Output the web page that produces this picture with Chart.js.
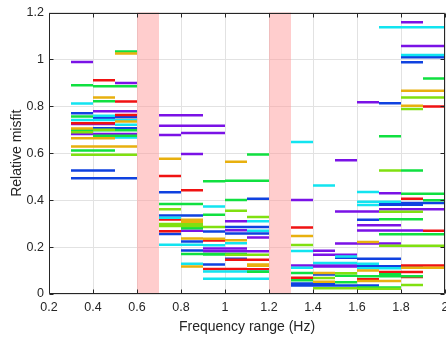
<!DOCTYPE html>
<html>
<head>
<meta charset="utf-8">
<script src="https://cdn.jsdelivr.net/npm/chart.js@4"></script>
<style>
  html, body { margin: 0; padding: 0; background: #fff; overflow: hidden; }
  #wrap { width: 460px; height: 337px; }
</style>
</head>
<body>
<div id="wrap"><canvas id="misfit" width="460" height="337"></canvas></div>
<script>
// each entry: [low freq, high freq, relative misfit]
const segPurple = [
  [0.3, 0.4, 0.989], [0.5, 0.6, 0.900], [0.4, 0.6, 0.779], [0.4, 0.5, 0.751], [0.3, 0.5, 0.725], [0.3, 0.6, 0.682],
  [0.7, 0.9, 0.762], [0.7, 1.0, 0.717], [0.7, 0.8, 0.678], [0.8, 1.0, 0.686], [0.8, 0.9, 0.597], [0.8, 0.9, 0.270],
  [0.9, 1.1, 0.194], [0.9, 1.2, 0.182], [1.0, 1.1, 0.310], [1.0, 1.1, 0.272], [1.1, 1.2, 0.241],
  [1.5, 1.6, 0.570], [1.3, 1.4, 0.401], [1.5, 1.7, 0.352], [1.5, 1.8, 0.215], [1.4, 1.5, 0.184], [1.4, 1.6, 0.167],
  [1.3, 1.7, 0.122], [1.4, 1.6, 0.117],
  [1.8, 1.9, 1.158], [1.8, 2.0, 1.057], [1.6, 1.7, 0.817], [1.7, 1.8, 0.429], [1.7, 2.0, 0.361], [1.6, 1.8, 0.293], [1.6, 1.9, 0.271]
];
const segBlue = [
  [0.3, 0.4, 0.771], [0.4, 0.5, 0.752], [0.5, 0.6, 0.755], [0.4, 0.6, 0.707], [0.3, 0.5, 0.526], [0.3, 0.6, 0.493],
  [0.7, 0.8, 0.434], [1.1, 1.2, 0.406], [0.7, 0.9, 0.335], [0.7, 0.8, 0.256], [0.9, 1.0, 0.266], [0.8, 0.9, 0.224],
  [0.8, 0.9, 0.185], [0.9, 1.0, 0.126], [1.0, 1.2, 0.286], [1.0, 1.2, 0.258], [1.0, 1.1, 0.150],
  [1.5, 1.6, 0.155], [1.4, 1.5, 0.083], [1.3, 1.5, 0.045], [1.3, 1.6, 0.036],
  [1.8, 2.0, 1.009], [1.8, 1.9, 0.988], [1.7, 1.8, 0.813], [1.7, 2.0, 0.388], [1.7, 1.9, 0.380], [1.6, 1.7, 0.316],
  [1.6, 1.8, 0.150], [1.6, 1.9, 0.118], [1.6, 1.7, 0.036]
];
const segRed = [
  [0.4, 0.5, 0.911], [0.5, 0.6, 0.821], [0.5, 0.6, 0.763], [0.3, 0.5, 0.728], [0.5, 0.6, 0.742],
  [0.7, 0.8, 0.503], [0.8, 0.9, 0.442], [0.7, 0.8, 0.318], [0.7, 0.8, 0.268], [0.9, 1.0, 0.228], [1.0, 1.2, 0.146],
  [0.9, 1.1, 0.107], [1.1, 1.2, 0.105],
  [1.3, 1.4, 0.283], [1.3, 1.4, 0.069],
  [1.9, 2.0, 0.799], [1.8, 1.9, 0.406], [1.9, 2.0, 0.270], [1.8, 2.0, 0.122], [1.7, 1.9, 0.094], [1.8, 1.9, 0.073],
  [1.6, 1.7, 0.063]
];
const segCyan = [
  [0.3, 0.4, 0.812], [0.4, 0.5, 0.760], [0.3, 0.6, 0.742], [0.4, 0.6, 0.667], [0.5, 0.6, 0.721],
  [0.9, 1.0, 0.373], [0.7, 0.8, 0.325], [0.7, 0.9, 0.210], [1.1, 1.2, 0.310], [1.1, 1.2, 0.270], [1.0, 1.1, 0.216],
  [0.9, 1.0, 0.208], [0.8, 0.9, 0.129], [0.9, 1.2, 0.096], [0.9, 1.2, 0.065],
  [1.3, 1.4, 0.648], [1.4, 1.5, 0.463], [1.3, 1.4, 0.183], [1.5, 1.6, 0.160], [1.4, 1.6, 0.132], [1.3, 1.4, 0.112],
  [1.7, 2.0, 1.137], [1.8, 2.0, 1.019], [1.6, 1.7, 0.435], [1.6, 1.8, 0.393], [1.6, 1.7, 0.379], [1.6, 1.7, 0.129],
  [1.6, 1.8, 0.110]
];
const segGreen = [
  [0.5, 0.6, 1.034], [0.3, 0.4, 0.890], [0.4, 0.6, 0.886], [0.4, 0.5, 0.822], [0.3, 0.4, 0.757], [0.3, 0.6, 0.698],
  [0.4, 0.6, 0.675], [0.3, 0.5, 0.612],
  [1.1, 1.2, 0.595], [0.9, 1.0, 0.481], [1.0, 1.2, 0.483], [0.7, 0.9, 0.384], [0.9, 1.0, 0.338], [1.0, 1.1, 0.401],
  [0.8, 0.9, 0.280], [0.8, 1.1, 0.171], [0.9, 1.0, 0.168], [1.1, 1.2, 0.095],
  [1.3, 1.4, 0.090], [1.5, 1.6, 0.078], [1.3, 1.4, 0.059], [1.5, 1.6, 0.050],
  [1.9, 2.0, 0.919], [1.7, 1.8, 0.672], [1.8, 1.9, 0.526], [1.8, 2.0, 0.427], [1.9, 2.0, 0.400], [1.7, 1.9, 0.319],
  [1.7, 2.0, 0.255], [1.7, 1.8, 0.084], [1.6, 1.9, 0.076], [1.6, 1.8, 0.028]
];
const segLime = [
  [0.3, 0.4, 0.690], [0.4, 0.5, 0.700], [0.3, 0.6, 0.594],
  [0.7, 0.8, 0.361], [0.7, 0.9, 0.298], [0.7, 0.9, 0.290], [0.9, 1.0, 0.286], [1.0, 1.1, 0.355], [1.1, 1.2, 0.328],
  [1.0, 1.2, 0.167],
  [1.3, 1.4, 0.209], [1.5, 1.6, 0.088], [1.4, 1.5, 0.068], [1.4, 1.6, 0.024],
  [1.8, 2.0, 0.838], [1.8, 1.9, 0.789], [1.7, 1.8, 0.526], [1.7, 1.9, 0.351], [1.7, 2.0, 0.206], [1.8, 1.9, 0.038],
  [1.6, 1.8, 0.022]
];
const segOrange = [
  [0.5, 0.6, 1.025], [0.4, 0.5, 0.838], [0.3, 0.4, 0.705], [0.5, 0.6, 0.735], [0.3, 0.5, 0.664], [0.3, 0.6, 0.629],
  [0.7, 0.8, 0.577], [1.0, 1.1, 0.564], [0.8, 0.9, 0.317], [0.8, 0.9, 0.308], [0.8, 0.9, 0.237], [0.9, 1.0, 0.235],
  [1.0, 1.1, 0.229], [0.8, 0.9, 0.117], [1.1, 1.2, 0.126], [1.1, 1.2, 0.120],
  [1.3, 1.4, 0.247], [1.4, 1.5, 0.090], [1.4, 1.5, 0.052],
  [1.8, 2.0, 0.866], [1.8, 1.9, 0.803], [1.6, 1.7, 0.222], [1.8, 2.0, 0.112], [1.6, 1.7, 0.100], [1.6, 1.8, 0.055]
];

// frequency ranges left out of the inversion
const excludedBands = [[0.6, 0.7], [1.2, 1.3]];

const seriesList = [
  { segs: segOrange, color: '#e8b00e' },
  { segs: segLime,   color: '#80e010' },
  { segs: segGreen,  color: '#10e040' },
  { segs: segCyan,   color: '#12e4f0' },
  { segs: segRed,    color: '#f01212' },
  { segs: segBlue,   color: '#0f42e0' },
  { segs: segPurple, color: '#7a12e6' }
];

function toPoints(segs) {
  const pts = [];
  segs.forEach(s => {
    pts.push({ x: s[0], y: s[2] }, { x: s[1], y: s[2] }, { x: s[1], y: null });
  });
  return pts;
}

const axisColor = '#262626';
const fontFamily = '"Liberation Sans", Arial, sans-serif';
const tickLabel = v => String(Math.round(v * 10) / 10);

const bandPlugin = {
  id: 'bands',
  beforeDatasetsDraw(chart) {
    const { ctx, chartArea, scales: { x } } = chart;
    ctx.save();
    ctx.fillStyle = 'rgba(255, 150, 150, 0.48)';
    excludedBands.forEach(b => {
      const x0 = x.getPixelForValue(b[0]);
      const x1 = x.getPixelForValue(b[1]);
      ctx.fillRect(x0, chartArea.top, x1 - x0, chartArea.bottom - chartArea.top);
    });
    ctx.restore();
  }
};

// box around the axes with inward tick marks
const framePlugin = {
  id: 'frame',
  afterDraw(chart) {
    const { ctx, chartArea: a, scales: { x, y } } = chart;
    const L = Math.round(a.left) + 0.5, R = Math.round(a.right) - 0.5;
    const T = Math.round(a.top) + 0.5, B = Math.round(a.bottom) - 0.5;
    ctx.save();
    ctx.strokeStyle = axisColor;
    ctx.lineWidth = 1;
    ctx.beginPath();
    ctx.rect(L, T, R - L, B - T);
    x.ticks.forEach(t => {
      const px = Math.round(x.getPixelForValue(t.value)) + 0.5;
      ctx.moveTo(px, B); ctx.lineTo(px, B - 4);
      ctx.moveTo(px, T); ctx.lineTo(px, T + 4);
    });
    y.ticks.forEach(t => {
      const py = Math.round(y.getPixelForValue(t.value)) + 0.5;
      ctx.moveTo(L, py); ctx.lineTo(L + 4, py);
      ctx.moveTo(R, py); ctx.lineTo(R - 4, py);
    });
    ctx.stroke();
    ctx.restore();
  }
};

new Chart(document.getElementById('misfit'), {
  type: 'line',
  data: {
    datasets: seriesList.map(s => ({
      data: toPoints(s.segs),
      borderColor: s.color,
      borderWidth: 2.5,
      borderCapStyle: 'butt',
      pointRadius: 0,
      spanGaps: false,
      tension: 0
    }))
  },
  options: {
    responsive: false,
    animation: false,
    layout: { padding: { top: 9, right: 15, left: 0, bottom: 0 } },
    plugins: { legend: { display: false }, tooltip: { enabled: false } },
    scales: {
      x: {
        type: 'linear', min: 0.2, max: 2,
        afterFit: s => { s.height = 43; },
        ticks: { stepSize: 0.2, padding: 6, color: axisColor, callback: tickLabel,
                 font: { family: fontFamily, size: 12.5 } },
        grid: { color: '#e2e2e2', drawTicks: false },
        border: { display: false },
        title: { display: true, text: 'Frequency range (Hz)', color: axisColor,
                 font: { family: fontFamily, size: 14 }, padding: { top: 0, bottom: 1 } }
      },
      y: {
        type: 'linear', min: 0, max: 1.2,
        afterFit: s => { s.width = 49; },
        ticks: { stepSize: 0.2, padding: 5, color: axisColor, callback: tickLabel,
                 font: { family: fontFamily, size: 12.5 } },
        grid: { color: '#e2e2e2', drawTicks: false },
        border: { display: false },
        title: { display: true, text: 'Relative misfit', color: axisColor,
                 font: { family: fontFamily, size: 14 }, padding: { top: 9, bottom: 0 } }
      }
    }
  },
  plugins: [bandPlugin, framePlugin]
});
</script>
</body>
</html>
